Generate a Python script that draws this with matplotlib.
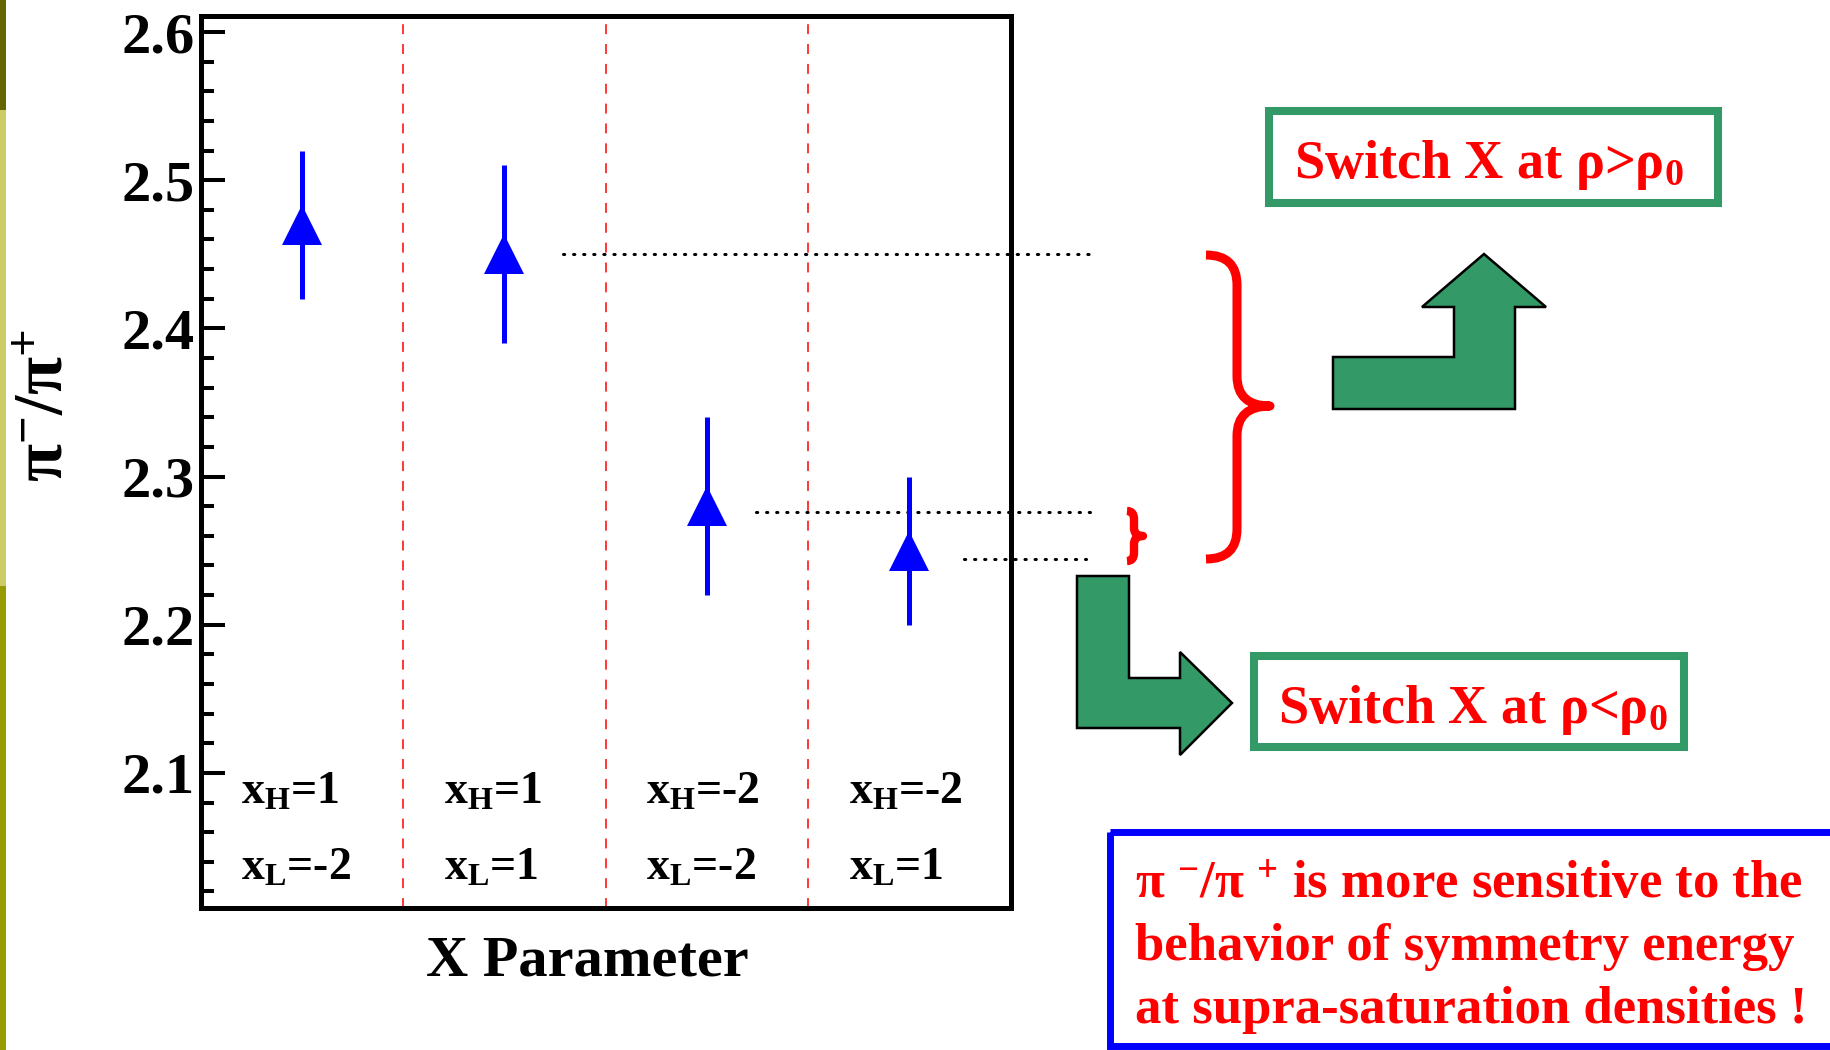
import numpy as np
import matplotlib
matplotlib.use("Agg")
import matplotlib.pyplot as plt
from matplotlib.patches import Rectangle, Polygon, PathPatch
from matplotlib.path import Path
from matplotlib.ticker import MultipleLocator, FormatStrFormatter

plt.rcParams["font.family"] = "Liberation Serif"
plt.rcParams["font.weight"] = "bold"
plt.rcParams["mathtext.fontset"] = "custom"
plt.rcParams["mathtext.rm"] = "Liberation Serif:bold"
plt.rcParams["mathtext.it"] = "Liberation Serif:italic:bold"
plt.rcParams["mathtext.bf"] = "Liberation Serif:bold"

# data
x_h = ["1", "1", "-2", "-2"]
x_l = ["-2", "1", "-2", "1"]
ratio = [2.47, 2.45, 2.28, 2.25]
ratio_err = [0.05, 0.06, 0.06, 0.05]
# hand-drawn dotted guide levels (points 2-4)
guide_y = [2.45, 2.276, 2.244]

BLUE = "#0000ff"
RED = "#ff0000"
GREEN = "#339966"

W, H = 1830, 1050
fig = plt.figure(figsize=(W / 100, H / 100), dpi=100)
ax = fig.add_axes([200.7 / W, 1 - 908 / H, 810 / W, 892 / H])

xpos = np.arange(len(ratio)) + 0.5
ax.errorbar(xpos, ratio, yerr=ratio_err, fmt="^", color=BLUE, ms=29, mew=0,
            elinewidth=3.6, capsize=0, zorder=3)

# red dashed separators between settings
for b in range(1, len(ratio)):
    ax.axvline(b, color=RED, lw=1.1, dashes=(6.5, 6.5))

# dotted guide lines from points 2-4 out to the braces
starts = [0.29, 0.24, 0.27]
ends = [4.40, 4.40, 4.37]
for k, i in enumerate(range(1, len(ratio))):
    ax.plot([xpos[i] + starts[k], ends[k]], [guide_y[k], guide_y[k]], color="k",
            lw=2.2, linestyle=(0, (0.4, 2.9)), dash_capstyle="round", clip_on=False)

for i in range(len(ratio)):
    ax.text(i + 0.2, 2.079, "x$_\\mathregular{H}$=" + x_h[i], fontsize=33, va="baseline")
    ax.text(i + 0.2, 2.028, "x$_\\mathregular{L}$=" + x_l[i], fontsize=33, va="baseline")

ax.set_xlim(0, 4)
ax.set_ylim(2.0088, 2.6108)
ax.set_xticks([])
ax.yaxis.set_major_locator(MultipleLocator(0.1))
ax.yaxis.set_minor_locator(MultipleLocator(0.02))
ax.yaxis.set_major_formatter(FormatStrFormatter("%.1f"))
ax.tick_params(axis="y", which="major", direction="in", length=17, width=2.9,
               labelsize=42, pad=4.5)
ax.tick_params(axis="y", which="minor", direction="in", length=9.4, width=2.9)
for s in ax.spines.values():
    s.set_linewidth(3.6)

fig.text(46 / W, 1 - 405 / H, "π$^\\mathregular{-}$/π$^\\mathregular{+}$", rotation=90,
         fontsize=50, ha="center", va="center")
fig.text(587 / W, 1 - 975 / H, "X Parameter", fontsize=42, ha="center", va="baseline")

# overlay in pixel coordinates for the annotations on the right
ov = fig.add_axes([0, 0, 1, 1])
ov.set_xlim(0, W)
ov.set_ylim(H, 0)
ov.axis("off")

# slide strip on the left edge
ov.add_patch(Rectangle((0, 0), 6, 110, color="#666600", lw=0))
ov.add_patch(Rectangle((0, 110), 6, 476, color="#cccc66", lw=0))
ov.add_patch(Rectangle((0, 586), 6, 464, color="#999900", lw=0))


def brace(xl, xs, xt, yt, ym, yb, r, lw):
    verts = [(xl, yt), (xs, yt), (xs, yt + r), (xs, ym - r), (xs, ym), (xt, ym),
             (xs, ym), (xs, ym + r), (xs, yb - r), (xs, yb), (xl, yb)]
    codes = [Path.MOVETO, Path.CURVE3, Path.CURVE3, Path.LINETO, Path.CURVE3, Path.CURVE3,
             Path.CURVE3, Path.CURVE3, Path.LINETO, Path.CURVE3, Path.CURVE3]
    ov.add_patch(PathPatch(Path(verts, codes), fill=False, edgecolor=RED, lw=lw,
                           capstyle="butt", joinstyle="round"))


brace(1206, 1237, 1270, 255, 406, 559, 30, 6.5)
brace(1127, 1134, 1143, 511, 536, 561, 8, 6)

# bent arrows
up_arrow = [(1484, 254), (1546, 307), (1515, 307), (1515, 409), (1333, 409),
            (1333, 357), (1454, 357), (1454, 307), (1422, 307)]
down_arrow = [(1077, 576), (1129, 576), (1129, 678), (1180, 678), (1180, 652),
              (1232, 703), (1180, 755), (1180, 728), (1077, 728)]
for pts in (up_arrow, down_arrow):
    ov.add_patch(Polygon(pts, closed=True, facecolor=GREEN, edgecolor="k", lw=1.8))

# text boxes
ov.add_patch(Rectangle((1269, 111), 448.6, 92, fill=False, edgecolor=GREEN, lw=5.8))
ov.add_patch(Rectangle((1254, 656), 430, 91, fill=False, edgecolor=GREEN, lw=5.8))
ov.add_patch(Rectangle((1110, 832), 760, 214, fill=False, edgecolor=BLUE, lw=5))

ov.text(1294, 178, "Switch X at ρ>ρ$_\\mathregular{0}$", color=RED, fontsize=39, va="baseline")
ov.text(1278, 723, "Switch X at ρ<ρ$_\\mathregular{0}$", color=RED, fontsize=39, va="baseline")

msg = ["π $^\\mathregular{-}$/π $^\\mathregular{+}$ is more sensitive to the",
       "behavior of symmetry energy",
       "at supra-saturation densities !"]
for line, yb in zip(msg, [898, 960, 1023]):
    ov.text(1135, yb, line, color=RED, fontsize=38, va="baseline")

fig.savefig("out.png", dpi=100)
